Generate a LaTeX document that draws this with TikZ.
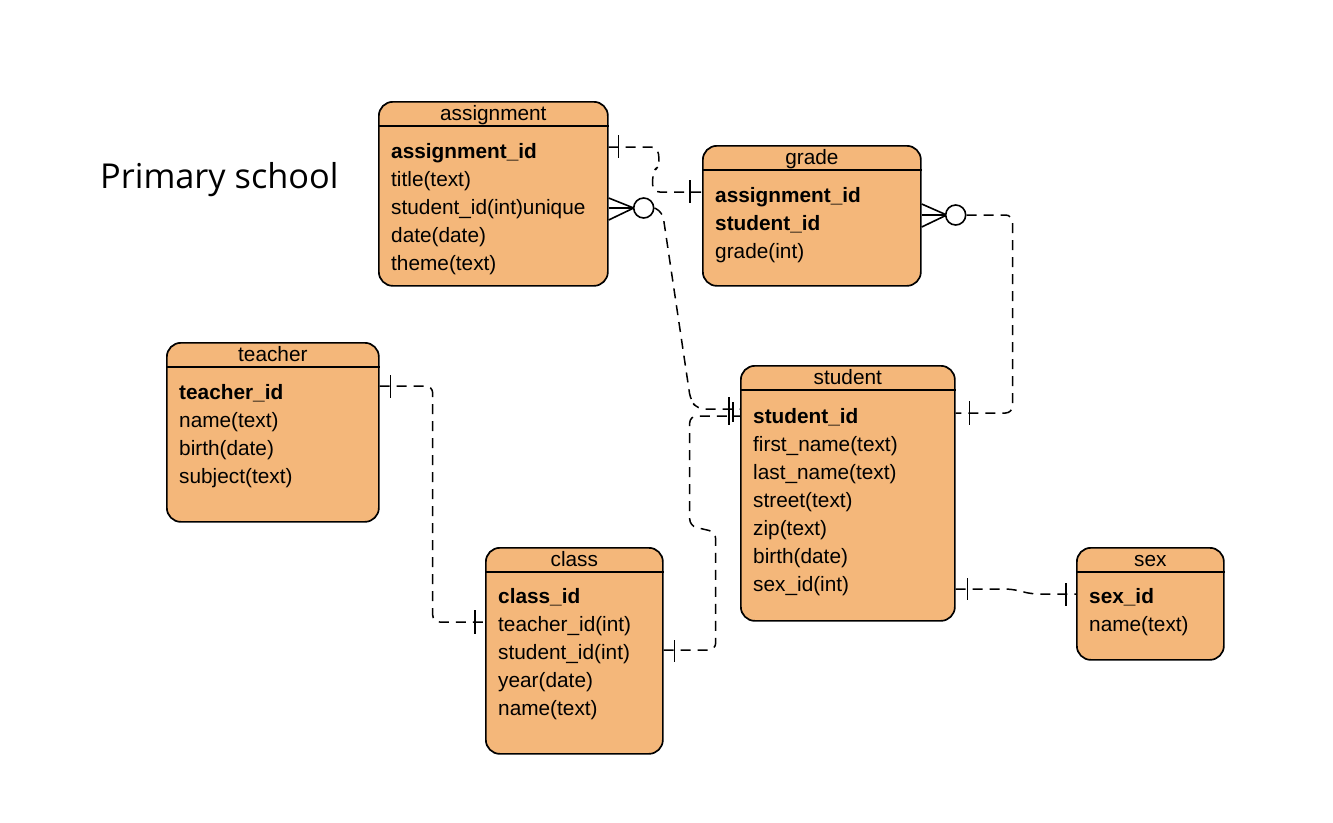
\documentclass[tikz,border=0pt]{standalone}
\usepackage{fontspec}
\setmainfont{Liberation Sans}
\newfontfamily\titlefont{Open Sans}
\newcommand\fieldsize{\fontsize{20.8pt}{28pt}\selectfont}
\definecolor{tablefill}{RGB}{244,183,122}
\tikzset{
  tablebox/.style={draw, line width=1.7pt, rounded corners=14pt, fill=tablefill, anchor=north west, inner sep=0pt},
  tablehead/.style={anchor=base, inner sep=0pt},
  field/.style={anchor=base west, inner sep=0pt},
  pkfield/.style={field, font=\fieldsize\bfseries},
  relation/.style={line width=1.5pt, dash pattern=on 10pt off 7pt, rounded corners=7pt},
  onebar/.style={line width=1.5pt},
  crowfoot/.style={line width=1.6pt},
  zeroring/.style={circle, draw, line width=1.6pt, fill=white, minimum size=20pt, inner sep=0pt}
}
\begin{document}
\begin{tikzpicture}[x=1pt, y=-1pt, font=\fieldsize]
  \useasboundingbox (0,0) rectangle (1333,822);

  % 标题
  \node[anchor=base west, inner sep=0pt, font=\titlefont\fontsize{34.3pt}{40pt}\selectfont] (title) at (100,188) {Primary school};

  % 画表格
  \node[tablebox, minimum width=229pt, minimum height=184pt] (assignment) at (378,101) {};
  \node[tablebox, minimum width=218pt, minimum height=140pt] (grade) at (702,145) {};
  \node[tablebox, minimum width=212pt, minimum height=179pt] (teacher) at (166,342) {};
  \node[tablebox, minimum width=214pt, minimum height=255pt] (student) at (740,365) {};
  \node[tablebox, minimum width=177pt, minimum height=206pt] (class) at (485,547) {};
  \node[tablebox, minimum width=147pt, minimum height=112pt] (sex) at (1076,547) {};

  % 表头
  \foreach \tbl in {assignment, grade, teacher, student, class, sex} {
    \draw[line width=1.5pt] ([yshift=-25pt]\tbl.north west) -- ([yshift=-25pt]\tbl.north east);
    \node[tablehead] (\tbl-head) at ([shift={(0,19)}]\tbl.north) {\tbl};
  }

  % 插入字段
  \node[pkfield] (assignment-0) at ([shift={(13,57)}]assignment.north west) {assignment\_id};
  \foreach \txt [count=\i] in {title(text), student\_id(int)unique, date(date), theme(text)}
    \node[field] (assignment-\i) at ([shift={(13,57+28*\i)}]assignment.north west) {\txt};

  \node[pkfield] (grade-0) at ([shift={(13,57)}]grade.north west) {assignment\_id};
  \node[pkfield] (grade-1) at ([shift={(13,85)}]grade.north west) {student\_id};
  \node[field] (grade-2) at ([shift={(13,113)}]grade.north west) {grade(int)};

  \node[pkfield] (teacher-0) at ([shift={(13,57)}]teacher.north west) {teacher\_id};
  \foreach \txt [count=\i] in {name(text), birth(date), subject(text)}
    \node[field] (teacher-\i) at ([shift={(13,57+28*\i)}]teacher.north west) {\txt};

  \node[pkfield] (student-0) at ([shift={(13,58)}]student.north west) {student\_id};
  \foreach \txt [count=\i] in {first\_name(text), last\_name(text), street(text), zip(text), birth(date), sex\_id(int)}
    \node[field] (student-\i) at ([shift={(13,58+28*\i)}]student.north west) {\txt};

  \node[pkfield] (class-0) at ([shift={(13,56)}]class.north west) {class\_id};
  \foreach \txt [count=\i] in {teacher\_id(int), student\_id(int), year(date), name(text)}
    \node[field] (class-\i) at ([shift={(13,56+28*\i)}]class.north west) {\txt};

  \node[pkfield] (sex-0) at ([shift={(13,56)}]sex.north west) {sex\_id};
  \node[field] (sex-1) at ([shift={(13,84)}]sex.north west) {name(text)};

  % 连接点
  \coordinate (asg-pk) at ([yshift=-46pt]assignment.north east);
  \coordinate (asg-fk) at ([yshift=-107pt]assignment.north east);
  \coordinate (grd-pk) at ([yshift=-47pt]grade.north west);
  \coordinate (grd-fk) at ([yshift=-70pt]grade.north east);
  \coordinate (stu-l1) at ([yshift=-44pt]student.north west);
  \coordinate (stu-l2) at ([yshift=-51pt]student.north west);
  \coordinate (stu-r) at ([yshift=-48pt]student.north east);
  \coordinate (stu-sex) at ([yshift=-224pt]student.north east);
  \coordinate (tch-pk) at ([yshift=-44pt]teacher.north east);
  \coordinate (cls-tch) at ([yshift=-75pt]class.north west);
  \coordinate (cls-stu) at ([yshift=-103pt]class.north east);
  \coordinate (sex-pk) at ([yshift=-47pt]sex.north west);

  % 零或多
  \draw[crowfoot] ([yshift=10pt]asg-fk) -- ([xshift=25pt]asg-fk) -- ([yshift=-12pt]asg-fk);
  \draw[crowfoot] (asg-fk) -- ([xshift=25pt]asg-fk);
  \node[zeroring] (asg-zero) at ([xshift=35pt]asg-fk) {};
  \draw[crowfoot] ([yshift=11pt]grd-fk) -- ([xshift=25pt]grd-fk) -- ([yshift=-12pt]grd-fk);
  \draw[crowfoot] (grd-fk) -- ([xshift=25pt]grd-fk);
  \node[zeroring] (grd-zero) at ([xshift=34pt]grd-fk) {};

  % 虚线关系
  \draw[relation] (asg-pk) -- ++(49,0) -- ++(2,18) -- ++(-7,7) |- (grd-pk);
  \draw[relation] (asg-zero.east) -- ++(8,4) -- ++(28,188) -- ++(7,9) -- (stu-l1);
  \draw[relation] (cls-stu) -- ++(52,0) -- ++(0,-118) -- ++(-26,-6) |- (stu-l2);
  \draw[relation] (grd-zero.east) -| ++(46,198) -- (stu-r);
  \draw[relation] (tch-pk) -- ++(53,0) |- (cls-tch);
  \draw[relation] (stu-sex) -- ++(56,0) -- ++(20,5) -- (sex-pk);

  % 一
  \draw[onebar] ([xshift=10pt]asg-pk) ++(0,-12) -- ++(0,23);
  \draw[onebar] ([xshift=-12pt]grd-pk) ++(0,-12) -- ++(0,23);
  \draw[onebar] ([xshift=-11pt]stu-l1) ++(0,-12) -- ++(0,28);
  \draw[onebar] ([xshift=-7pt]stu-l1) ++(0,-7) -- ++(0,20);
  \draw[onebar] ([xshift=14pt]stu-r) ++(0,-12) -- ++(0,24);
  \draw[onebar] ([xshift=11pt]tch-pk) ++(0,-11) -- ++(0,23);
  \draw[onebar] ([xshift=-10pt]cls-tch) ++(0,-12) -- ++(0,24);
  \draw[onebar] ([xshift=11pt]cls-stu) ++(0,-10) -- ++(0,22);
  \draw[onebar] ([xshift=12pt]stu-sex) ++(0,-11) -- ++(0,22);
  \draw[onebar] ([xshift=-10pt]sex-pk) ++(0,-11) -- ++(0,23);

\end{tikzpicture}
\end{document}
